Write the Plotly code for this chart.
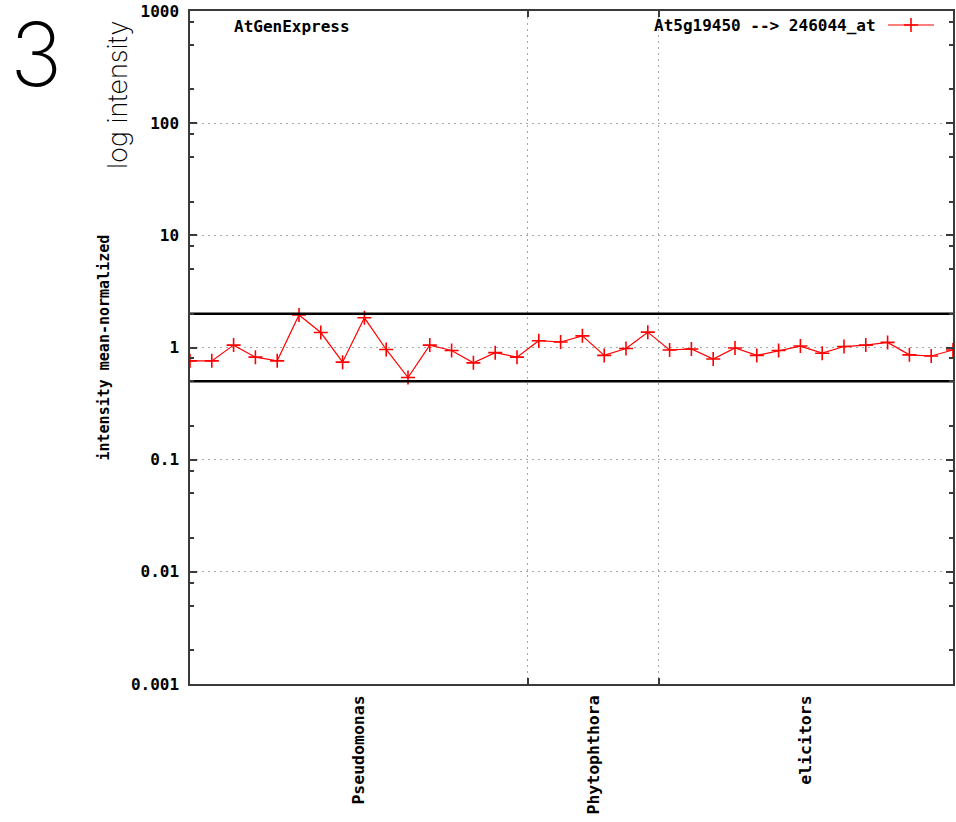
import numpy as np
import plotly.graph_objects as go

# ---------------- data ----------------
categories = ["Pseudomonas", "Phytophthora", "elicitors"]
group_sizes = [16, 6, 14]
intensity = [0.76, 0.76, 1.05, 0.82, 0.76, 1.95, 1.36, 0.74, 1.84, 0.96,
             0.54, 1.05, 0.94, 0.73, 0.90, 0.82,
             1.15, 1.12, 1.27, 0.85, 0.98, 1.37,
             0.95, 0.97, 0.79, 0.99, 0.85, 0.94, 1.03, 0.89, 1.02, 1.05,
             1.11, 0.86, 0.84, 0.95]
thresholds = [2.0, 0.5]
y_tick_vals = [0.001, 0.01, 0.1, 1, 10, 100, 1000]
y_tick_text = ["0.001", "0.01", "0.1", "1", "10", "100", "1000"]
y_minor_factors = [2, 5, 8]
series_name = "At5g19450 --> 246044_at"
plot_title = "AtGenExpress"
y_title = "intensity mean-normalized"
panel_label = "3"
side_label = "log intensity"

# ---------------- derived ----------------
n = len(intensity)
x = np.arange(n)
x_min, x_max = 0, n - 1
bounds = np.cumsum(group_sizes)[:-1] - 0.5
edges = [x_min] + list(bounds) + [x_max]
centers = [(edges[i] + edges[i + 1]) / 2 for i in range(len(categories))]
y_minor = [f * 10.0 ** e for e in range(-3, 3) for f in y_minor_factors]

W, H = 956, 822
L, R, T, B = 190, 3, 11, 138
PW, PH = W - L - R, H - T - B


def px_x(p):
    return (p - L) / PW


def px_y(p):
    return (H - B - p) / PH


MONO = "DejaVu Sans Mono"
AXCOL = "#3a3a3a"
GRID = "#a8a8a8"

fig = go.Figure()

fig.add_trace(go.Scatter(
    x=x, y=intensity, mode="lines+markers", name=series_name,
    line=dict(color="#ff0000", width=1.2),
    marker=dict(symbol="cross-thin", size=10, line=dict(color="#ff0000", width=1.6)),
    showlegend=False,
))
for t in thresholds:
    fig.add_trace(go.Scatter(
        x=[x_min, x_max], y=[t, t], mode="lines",
        line=dict(color="black", width=2.6), showlegend=False, hoverinfo="skip",
    ))

# legend sample (gnuplot style: text left, sample right)
fig.add_trace(go.Scatter(
    x=[0, 1], y=[0, 0], mode="lines", xaxis="x3", yaxis="y3",
    line=dict(color="#ff0000", width=1.2), showlegend=False, hoverinfo="skip",
))
fig.add_trace(go.Scatter(
    x=[0.5], y=[0], mode="markers", xaxis="x3", yaxis="y3",
    marker=dict(symbol="cross-thin", size=10, line=dict(color="#ff0000", width=1.6)),
    showlegend=False, hoverinfo="skip",
))

fig.update_layout(
    width=W, height=H,
    margin=dict(l=L, r=R, t=T, b=B, pad=0, autoexpand=False),
    paper_bgcolor="white", plot_bgcolor="white",
    font=dict(family=MONO, size=16, color="black", weight="bold"),
    xaxis=dict(
        range=[x_min, x_max], tickmode="array", tickvals=centers, ticktext=categories,
        tickangle=-90, ticks="", showgrid=False, zeroline=False, automargin=False,
        showline=True, linecolor=AXCOL, linewidth=1.5, mirror="ticks",
        tickfont=dict(family=MONO, size=16.5, weight="bold"),
        ticklabelstandoff=3,
        minor=dict(tickmode="array", tickvals=list(bounds), ticks="inside", ticklen=6,
                   tickcolor=AXCOL, tickwidth=1.5, showgrid=True,
                   gridcolor=GRID, griddash="2px,4px", gridwidth=1),
    ),
    yaxis=dict(
        type="log", range=[-3, 3], tickmode="array", tickvals=y_tick_vals, ticktext=y_tick_text,
        ticks="inside", ticklen=7, tickcolor=AXCOL, tickwidth=1.5, automargin=False,
        showgrid=True, gridcolor=GRID, griddash="2px,4px", gridwidth=1, zeroline=False,
        showline=True, linecolor=AXCOL, linewidth=1.5, mirror="ticks",
        tickfont=dict(family=MONO, size=16, weight="bold"),
        ticklabelstandoff=6,
        minor=dict(tickmode="array", tickvals=y_minor, ticks="inside", ticklen=4,
                   tickcolor=AXCOL, tickwidth=1.5, showgrid=False),
    ),
    xaxis3=dict(domain=[px_x(888), px_x(934)], range=[0, 1], anchor="y3", visible=False, fixedrange=True),
    yaxis3=dict(domain=[px_y(35), px_y(15)], range=[-1, 1], anchor="x3", visible=False, fixedrange=True),
    showlegend=False,
)

fig.add_annotation(text=plot_title, xref="paper", yref="paper", x=px_x(232), y=px_y(26),
                   xanchor="left", yanchor="middle", showarrow=False,
                   font=dict(family=MONO, size=16, weight="bold"))
fig.add_annotation(text=series_name, xref="paper", yref="paper", x=px_x(878), y=px_y(25),
                   xanchor="right", yanchor="middle", showarrow=False,
                   font=dict(family=MONO, size=16, weight="bold"))
fig.add_annotation(text=y_title, xref="paper", yref="paper", x=px_x(103), y=0.5,
                   xanchor="center", yanchor="middle", textangle=-90, showarrow=False,
                   font=dict(family=MONO, size=15, weight="bold"))
fig.add_annotation(text=panel_label, xref="paper", yref="paper", x=px_x(36), y=px_y(54),
                   xanchor="center", yanchor="middle", showarrow=False,
                   font=dict(family="Inter", size=88, weight=250, color="black"))
fig.add_annotation(text=side_label, xref="paper", yref="paper", x=px_x(117), y=px_y(95),
                   xanchor="center", yanchor="middle", textangle=-90, showarrow=False,
                   font=dict(family="Inter", size=27, weight=250, color="black"))

fig.write_html("out.html")
